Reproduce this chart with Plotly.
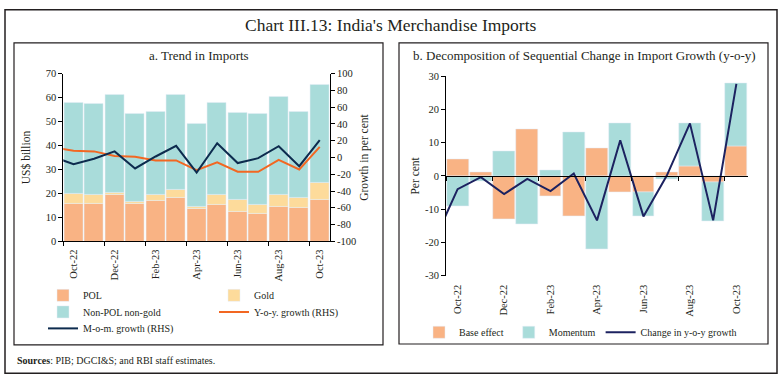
import plotly.graph_objects as go

# ---------------- data ----------------
months = ["Oct-22", "Nov-22", "Dec-22", "Jan-23", "Feb-23", "Mar-23", "Apr-23",
          "May-23", "Jun-23", "Jul-23", "Aug-23", "Sep-23", "Oct-23"]
# lines also carry the preceding month (Sep-22), partly visible at the left edge
line_months = ["Sep-22"] + months

pol = [15.9, 15.9, 19.3, 15.7, 16.9, 18.1, 13.5, 15.5, 12.4, 11.5, 14.3, 13.9, 17.6]
gold = [4.1, 3.4, 1.2, 0.8, 2.4, 3.3, 0.8, 3.8, 4.9, 3.8, 5.0, 4.2, 7.0]
non_pol_non_gold = [38.1, 38.0, 40.9, 36.7, 34.8, 40.0, 34.8, 38.4, 36.3, 37.9, 41.1, 36.0, 40.9]
yoy_growth = [11.9, 8.1, 7.3, 1.9, 0.8, -3.5, -3.5, -15.1, -5.8, -17.0, -17.0, -2.7, -14.3, 12.7]
mom_growth = [1.1, -8.1, -1.5, 7.3, -13.1, 1.2, 13.9, -18.1, 17.0, -6.6, -0.8, 13.5, -10.4, 20.8]

base_effect = [5.0, 1.2, -13.0, 13.9, -6.0, -12.0, 8.3, -5.0, -5.0, 1.0, 3.0, -1.9, 8.8]
momentum = [-9.2, -1.6, 7.5, -14.6, 1.7, 13.0, -22.0, 15.9, -7.2, -1.0, 12.9, -11.6, 19.0]
change_yoy = [-19.4, -4.0, -0.4, -5.5, -0.9, -4.6, 0.7, -13.4, 10.7, -12.2, 0.0, 15.8, -13.4, 27.7]

left_ticks = [0, 10, 20, 30, 40, 50, 60, 70]
right_ticks = [-100, -80, -60, -40, -20, 0, 20, 40, 60, 80, 100]
b_ticks = [-30, -20, -10, 0, 10, 20, 30]

# ---------------- styling ----------------
W, H = 782, 384
FONT = "Liberation Serif"
TXT = "#231F20"
C_POL = "#F9B384"
C_GOLD = "#FDDB9B"
C_NONPOL = "#A9DCDA"
C_YOY = "#F26722"
C_MOM = "#0D2B4E"
C_CHG = "#1C2260"


def px_x(v):
    return v / W


def px_y(v):
    return 1 - v / H


def hy(vals):
    return [str(v) for v in vals]  # plain hyphen-minus like the reference


xpos = list(range(len(months)))
xpos_line = [i - 1 for i in range(len(line_months))]
label_pos = xpos[::2]
label_txt = months[::2]
boundaries = [i - 0.5 for i in xpos[::2]]

fig = go.Figure()

# ----- panel a -----
fig.add_trace(go.Bar(x=xpos, y=pol, name="POL", marker_color=C_POL, width=0.92,
                     xaxis="x", yaxis="y", legend="legend"))
fig.add_trace(go.Bar(x=xpos, y=gold, name="Gold", marker_color=C_GOLD, width=0.92,
                     xaxis="x", yaxis="y", legend="legend2"))
fig.add_trace(go.Bar(x=xpos, y=non_pol_non_gold, name="Non-POL non-gold", marker_color=C_NONPOL,
                     width=0.92, xaxis="x", yaxis="y", legend="legend3"))
fig.add_trace(go.Scatter(x=xpos_line, y=yoy_growth, name="Y-o-y. growth (RHS)", mode="lines",
                         line=dict(color=C_YOY, width=2), xaxis="x", yaxis="y2", legend="legend4"))
fig.add_trace(go.Scatter(x=xpos_line, y=mom_growth, name="M-o-m. growth (RHS)", mode="lines",
                         line=dict(color=C_MOM, width=2), xaxis="x", yaxis="y2", legend="legend5"))

# ----- panel b -----
fig.add_trace(go.Bar(x=xpos, y=base_effect, name="Base effect", marker_color=C_POL, width=0.94,
                     xaxis="x3", yaxis="y3", legend="legend6"))
fig.add_trace(go.Bar(x=xpos, y=momentum, name="Momentum", marker_color=C_NONPOL, width=0.94,
                     xaxis="x3", yaxis="y3", legend="legend6"))
fig.add_trace(go.Scatter(x=xpos_line, y=change_yoy, name="Change in y-o-y growth", mode="lines",
                         line=dict(color=C_CHG, width=2), xaxis="x4", yaxis="y3", legend="legend6"))

tickfont = dict(family=FONT, size=10.5, color=TXT)
titlefont = dict(family=FONT, size=11.5, color=TXT)
axis_common = dict(showgrid=False, zeroline=False, linecolor="black", linewidth=1,
                   tickcolor="black", ticklen=4, tickfont=tickfont)

a_dom_x = [px_x(63.3), px_x(330)]
a_dom_y = [px_y(243.3), px_y(70.7)]
b_dom_x = [px_x(446), px_x(748)]
b_dom_y = [px_y(278.5), px_y(73.3)]

leg_font = dict(family=FONT, size=10, color=TXT)


def legend_at(x, y, orientation="v"):
    return dict(x=px_x(x), y=px_y(y), xanchor="left", yanchor="top", orientation=orientation,
                font=leg_font, bgcolor="rgba(0,0,0,0)", itemwidth=30, traceorder="normal",
                tracegroupgap=0, visible=True)


fig.update_layout(
    width=W, height=H, margin=dict(l=0, r=0, t=0, b=0),
    paper_bgcolor="white", plot_bgcolor="white",
    barmode="relative", bargap=0, showlegend=True,
    font=dict(family=FONT, size=10, color=TXT),
    xaxis=dict(domain=a_dom_x, anchor="y", range=[-0.5, 12.5], tickmode="array",
               tickvals=label_pos, ticktext=label_txt, tickangle=-90, showline=True,
               ticks="outside", ticklen=3, tickcolor="rgba(0,0,0,0)",
               minor=dict(tickmode="array", tickvals=boundaries, ticks="outside",
                          ticklen=4, tickcolor="black", showgrid=False),
               showgrid=False, zeroline=False, linecolor="black", linewidth=1, tickfont=tickfont),
    yaxis=dict(domain=a_dom_y, anchor="x", range=[0, 70], tickmode="array",
               tickvals=left_ticks, ticktext=hy(left_ticks), showline=True, ticks="outside",
               title=dict(text="US$ billion", font=titlefont, standoff=12),
               **axis_common),
    yaxis2=dict(overlaying="y", side="right", anchor="x", range=[-100, 100], tickmode="array",
                tickvals=right_ticks, ticktext=hy(right_ticks), showline=True, ticks="outside",
                title=dict(text="Growth in per cent", font=titlefont, standoff=4),
                **axis_common),
    xaxis3=dict(domain=b_dom_x, anchor="y3", range=[-0.5, 12.5], tickmode="array",
                tickvals=label_pos, ticktext=label_txt, tickangle=-90, showline=False,
                ticks="outside", ticklen=4, tickcolor="rgba(0,0,0,0)",
                showgrid=False, zeroline=False, tickfont=tickfont),
    xaxis4=dict(overlaying="x3", anchor="free", position=(b_dom_y[0] + b_dom_y[1]) / 2,
                range=[-0.5, 12.5], tickmode="array", tickvals=boundaries, ticks="outside",
                ticklen=4, tickcolor="black", showticklabels=False, showline=True,
                linecolor="black", linewidth=1, showgrid=False, zeroline=False),
    yaxis3=dict(domain=b_dom_y, anchor="x3", range=[-30, 30], tickmode="array",
                tickvals=b_ticks, ticktext=hy(b_ticks), showline=True, ticks="outside",
                title=dict(text="Per cent", font=titlefont, standoff=2),
                **axis_common),
    legend=legend_at(43, 284),
    legend2=legend_at(214, 284),
    legend3=legend_at(43, 301),
    legend4=legend_at(214, 301),
    legend5=legend_at(43, 318),
    legend6=legend_at(419, 322, "h"),
)

# ---------------- frames & text ----------------
shapes = [
    dict(type="rect", xref="paper", yref="paper", x0=px_x(5), x1=px_x(777), y0=px_y(379), y1=px_y(5),
         line=dict(color="#231F20", width=1.5)),
    dict(type="rect", xref="paper", yref="paper", x0=px_x(14), x1=px_x(383), y0=px_y(350), y1=px_y(39),
         line=dict(color="#231F20", width=1.2)),
    dict(type="rect", xref="paper", yref="paper", x0=px_x(399), x1=px_x(768), y0=px_y(349), y1=px_y(39),
         line=dict(color="#231F20", width=1.2)),
]
fig.update_layout(shapes=shapes)

annotations = [
    dict(text="Chart III.13: India's Merchandise Imports", x=px_x(391), y=px_y(21),
         font=dict(family=FONT, size=17.5, color=TXT)),
    dict(text="a. Trend in Imports", x=px_x(199), y=px_y(52),
         font=dict(family=FONT, size=13, color=TXT)),
    dict(text="b. Decomposition of Sequential Change in Import Growth (y-o-y)", x=px_x(584), y=px_y(52),
         font=dict(family=FONT, size=13, color=TXT)),
    dict(text="<b>Sources</b>: PIB; DGCI&amp;S; and RBI staff estimates.", x=px_x(15), y=px_y(366),
         xanchor="left", font=dict(family=FONT, size=10, color=TXT)),
]
for a in annotations:
    a.setdefault("xanchor", "center")
    a.update(xref="paper", yref="paper", yanchor="middle", showarrow=False)
fig.update_layout(annotations=annotations)

# the page's default body margin would shift the figure; remove it
fig.write_html("out.html", config={"displayModeBar": False},
               post_script="document.body.style.margin='0';")
